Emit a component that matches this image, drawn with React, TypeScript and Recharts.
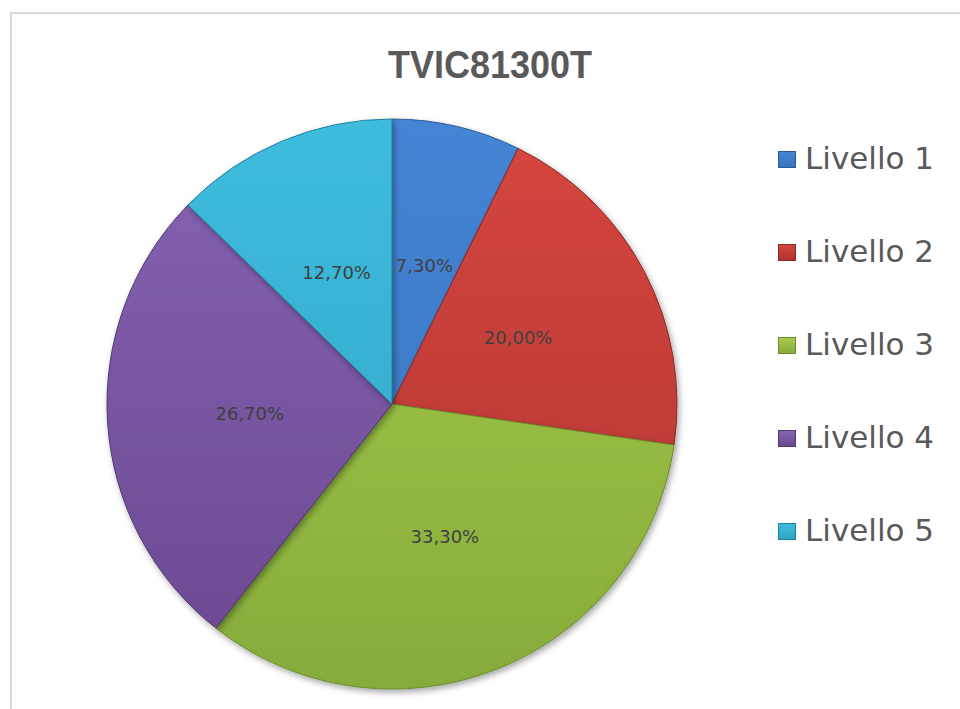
import React from 'react';
import { PieChart, Pie, Cell, Legend } from 'recharts';

const categories = ['Livello 1', 'Livello 2', 'Livello 3', 'Livello 4', 'Livello 5'];
const values = [7.3, 20.0, 33.3, 26.7, 12.7];
const valueLabels = ['7,30%', '20,00%', '33,30%', '26,70%', '12,70%'];
const chartTitle = 'TVIC81300T';

const topColors = ['#4585d6', '#d6463f', '#a5cd4c', '#8663b4', '#3dbcdd'];
const bottomColors = ['#3a72bb', '#ae3431', '#87ab3b', '#6a488f', '#31a4c4'];
const edgeColors = ['#2c5a94', '#8a2725', '#6a8a2c', '#513670', '#257f99'];

const data = categories.map((name, i) => ({ name, value: values[i], label: valueLabels[i] }));

const RADIAN = Math.PI / 180;

const renderLabel = (props: any) => {
  const { cx, cy, midAngle, outerRadius, index } = props;
  const r = outerRadius * 0.5;
  const x = cx + r * Math.cos(-midAngle * RADIAN);
  const y = cy + r * Math.sin(-midAngle * RADIAN);
  return (
    <text
      x={x}
      y={y}
      fill="#404040"
      fontSize={18}
      fontFamily="DejaVu Sans"
      textAnchor="middle"
      dominantBaseline="central"
    >
      {data[index].label}
    </text>
  );
};

const renderLegend = () => (
  <div style={{ position: 'relative', width: 180, height: 480 }}>
    {categories.map((name, i) => (
      <div key={name} style={{ position: 'absolute', left: 0, top: i * 93, height: 40, width: 180 }}>
        <div
          style={{
            position: 'absolute',
            left: 0,
            top: 8,
            width: 18,
            height: 17,
            boxSizing: 'border-box',
            border: `1px solid ${edgeColors[i]}`,
            background: `linear-gradient(${topColors[i]}, ${bottomColors[i]})`,
          }}
        />
        <div
          style={{
            position: 'absolute',
            left: 27,
            top: 0,
            fontFamily: 'DejaVu Sans',
            fontSize: 31,
            lineHeight: '31px',
            color: '#595959',
            whiteSpace: 'nowrap',
          }}
        >
          {name}
        </div>
      </div>
    ))}
  </div>
);

export default function App() {
  return (
    <div style={{ position: 'absolute', left: 0, top: 0, width: 960, height: 709, overflow: 'hidden', background: '#fff' }}>
      <style>{'body{margin:0;overflow:hidden}'}</style>
      <div
        style={{
          position: 'absolute',
          left: 10,
          top: 12,
          width: 1000,
          height: 800,
          border: '2px solid #d9d9d9',
        }}
      />
      <svg width={960} height={709} style={{ position: 'absolute', left: 0, top: 0 }}>
        <text
          x={490}
          y={78}
          textAnchor="middle"
          fontFamily="Liberation Sans"
          fontWeight="bold"
          fontSize={38}
          fill="#595959"
          textLength={204}
          lengthAdjust="spacingAndGlyphs"
        >
          {chartTitle}
        </text>
      </svg>
      <div style={{ position: 'absolute', left: 0, top: 0 }}>
        <PieChart width={960} height={709} margin={{ top: 0, right: 0, bottom: 0, left: 0 }}>
          <defs>
            {categories.map((name, i) => (
              <linearGradient key={name} id={`grad${i}`} gradientUnits="userSpaceOnUse" x1={0} y1={120} x2={0} y2={690}>
                <stop offset="0%" stopColor={topColors[i]} />
                <stop offset="100%" stopColor={bottomColors[i]} />
              </linearGradient>
            ))}
            <filter id="pieShadow" x="-10%" y="-10%" width="130%" height="130%">
              <feDropShadow dx={2} dy={3} stdDeviation={3} floodColor="#000" floodOpacity={0.35} />
            </filter>
          </defs>
          <Pie
            data={data}
            dataKey="value"
            nameKey="name"
            cx={392}
            cy={404}
            outerRadius={285}
            startAngle={90}
            endAngle={-270}
            isAnimationActive={false}
            label={renderLabel}
            labelLine={false}
          >
            {data.map((d, i) => (
              <Cell
                key={d.name}
                fill={`url(#grad${i})`}
                stroke={edgeColors[i]}
                strokeWidth={1}
                style={{ filter: 'url(#pieShadow)' }}
              />
            ))}
          </Pie>
          <Legend
            layout="vertical"
            align="right"
            verticalAlign="top"
            content={renderLegend}
            wrapperStyle={{ position: 'absolute', left: 778, top: 143, width: 180 }}
          />
        </PieChart>
      </div>
    </div>
  );
}
